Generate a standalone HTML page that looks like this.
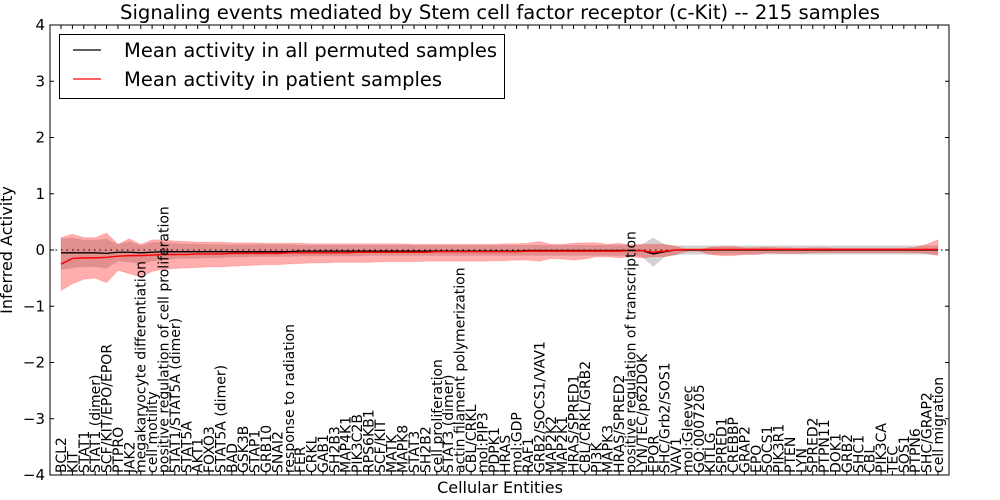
<!DOCTYPE html>
<html><head><meta charset="utf-8"><style>
html,body{margin:0;padding:0;background:#fff;}
svg{display:block;font-family:"DejaVu Sans","Liberation Sans",sans-serif;}
</style></head><body>
<svg id="chart" width="1000" height="500" viewBox="0 0 1000 500" xmlns="http://www.w3.org/2000/svg">
<text x="500" y="19" font-size="19.5" text-anchor="middle" textLength="760" lengthAdjust="spacingAndGlyphs">Signaling events mediated by Stem cell factor receptor (c-Kit) -- 215 samples</text>
<g id="bands"></g>
<g id="lines"></g>
<g id="yaxis"></g>
<g id="xaxis"></g>
<rect x="50" y="25" width="899" height="450" fill="none" stroke="#000" stroke-width="1"/>
<text transform="rotate(-90 12 250)" x="12" y="250" font-size="16" text-anchor="middle">Inferred Activity</text>
<text x="500" y="493" font-size="16" text-anchor="middle">Cellular Entities</text>
<g>
<rect x="59.5" y="34.5" width="445" height="64" fill="#fff" stroke="#000"/>
<line x1="73" y1="50" x2="101" y2="50" stroke="#000" stroke-width="1.2"/>
<text x="124" y="57" font-size="19.5">Mean activity in all permuted samples</text>
<line x1="73" y1="79" x2="101" y2="79" stroke="#f00" stroke-width="1.2"/>
<text x="124" y="86" font-size="19.5">Mean activity in patient samples</text>
</g>
</svg>
<script>
const categories=["BCL2","KIT","STAT1","STAT1 (dimer)","SCF/KIT/EPO/EPOR","PTPRO","JAK2","megakaryocyte differentiation","cell motility","positive regulation of cell proliferation","STAT1/STAT5A (dimer)","STAT5A","AKT1","FOXO3","STAT5A (dimer)","BAD","GSK3B","STAP1","GRB10","SNAI2","response to radiation","FER","CRKL","GAB1","SH2B3","MAP4K1","PIK3C2B","RPS6KB1","SCF/KIT","MATK","MAPK8","STAT3","SH2B2","cell proliferation","STAT3 (dimer)","actin filament polymerization","CBL/CRKL","mol:PIP3","PDPK1","HRAS","mol:GDP","RAF1","GRB2/SOCS1/VAV1","MAP2K2","MAP2K1","HRAS/SPRED1","CBL/CRKL/GRB2","PI3K","MAPK3","HRAS/SPRED2","positive regulation of transcription","LYN/TEC/p62DOK","EPOR","SHC/Grb2/SOS1","VAV1","mol:Gleevec","GO:0007205","KITLG","SPRED1","CREBBP","GRAP2","EPO","SOCS1","PIK3R1","PTEN","LYN","SPRED2","PTPN11","DOK1","GRB2","SHC1","CBL","PIK3CA","TEC","SOS1","PTPN6","SHC/GRAP2","cell migration"];
const permMean=[-0.05,-0.05,-0.05,-0.05,-0.06,-0.04,-0.04,-0.05,-0.04,-0.03,-0.03,-0.03,-0.03,-0.03,-0.03,-0.03,-0.03,-0.03,-0.03,-0.03,-0.03,-0.02,-0.02,-0.02,-0.02,-0.02,-0.02,-0.02,-0.02,-0.02,-0.02,-0.02,-0.02,-0.02,-0.02,-0.02,-0.02,-0.02,-0.02,-0.02,-0.02,-0.01,-0.01,-0.01,-0.01,-0.01,-0.01,-0.01,-0.01,-0.01,-0.01,-0.01,-0.07,-0.03,0,0,0,0,0,0,0,0,0,0,0,0,0,0,0,0,0,0,0,0,0,0,0,0];
const permLow=[-0.35,-0.32,-0.3,-0.3,-0.33,-0.2,-0.22,-0.25,-0.2,-0.18,-0.16,-0.15,-0.15,-0.14,-0.14,-0.13,-0.13,-0.12,-0.12,-0.12,-0.12,-0.11,-0.11,-0.11,-0.11,-0.11,-0.11,-0.1,-0.1,-0.1,-0.1,-0.1,-0.1,-0.1,-0.1,-0.1,-0.1,-0.1,-0.1,-0.1,-0.1,-0.1,-0.1,-0.1,-0.1,-0.1,-0.1,-0.1,-0.1,-0.1,-0.1,-0.12,-0.3,-0.12,-0.09,-0.08,-0.08,-0.08,-0.08,-0.08,-0.08,-0.08,-0.08,-0.08,-0.08,-0.08,-0.08,-0.08,-0.08,-0.08,-0.08,-0.08,-0.08,-0.08,-0.08,-0.08,-0.08,-0.08];
const permHigh=[0.2,0.22,0.18,0.18,0.2,0.1,0.15,0.08,0.14,0.14,0.12,0.11,0.11,0.1,0.1,0.1,0.1,0.1,0.1,0.1,0.1,0.09,0.09,0.09,0.09,0.09,0.09,0.09,0.09,0.09,0.09,0.09,0.09,0.09,0.09,0.09,0.09,0.09,0.09,0.09,0.09,0.09,0.09,0.09,0.09,0.09,0.09,0.09,0.09,0.09,0.09,0.1,0.22,0.1,0.08,0.08,0.08,0.08,0.08,0.08,0.08,0.08,0.08,0.08,0.08,0.08,0.08,0.08,0.08,0.08,0.08,0.08,0.08,0.08,0.08,0.08,0.08,0.08];
const patMean=[-0.25,-0.15,-0.14,-0.14,-0.13,-0.11,-0.1,-0.1,-0.09,-0.08,-0.08,-0.08,-0.07,-0.07,-0.07,-0.06,-0.06,-0.06,-0.06,-0.06,-0.05,-0.05,-0.05,-0.05,-0.05,-0.05,-0.04,-0.04,-0.04,-0.04,-0.04,-0.04,-0.04,-0.03,-0.03,-0.03,-0.03,-0.03,-0.03,-0.03,-0.03,-0.02,-0.02,-0.02,-0.02,-0.02,-0.02,-0.02,-0.02,-0.02,-0.01,-0.01,-0.04,-0.02,0,0.01,0.01,0.01,0.01,0.01,0.01,0.01,0.01,0.01,0.01,0.01,0.01,0.01,0.01,0.01,0.01,0.01,0.01,0.01,0.01,0.01,0.01,0.01];
const patLow=[-0.72,-0.6,-0.52,-0.5,-0.58,-0.36,-0.42,-0.48,-0.38,-0.34,-0.33,-0.32,-0.31,-0.3,-0.3,-0.29,-0.28,-0.27,-0.26,-0.26,-0.25,-0.24,-0.23,-0.23,-0.22,-0.22,-0.22,-0.22,-0.21,-0.21,-0.21,-0.21,-0.2,-0.2,-0.2,-0.2,-0.2,-0.2,-0.19,-0.19,-0.18,-0.18,-0.2,-0.15,-0.16,-0.18,-0.16,-0.12,-0.12,-0.14,-0.12,-0.14,-0.12,-0.12,-0.08,-0.02,-0.02,-0.08,-0.1,-0.1,-0.08,-0.08,-0.05,-0.06,-0.06,-0.06,-0.05,-0.05,-0.05,-0.05,-0.05,-0.05,-0.05,-0.05,-0.05,-0.05,-0.06,-0.1];
const patHigh=[0.22,0.28,0.22,0.22,0.3,0.1,0.2,0.1,0.18,0.18,0.16,0.15,0.14,0.14,0.14,0.13,0.13,0.13,0.12,0.12,0.12,0.12,0.11,0.11,0.11,0.11,0.11,0.11,0.11,0.11,0.11,0.1,0.1,0.1,0.1,0.1,0.1,0.1,0.1,0.11,0.11,0.12,0.15,0.1,0.1,0.12,0.13,0.13,0.1,0.12,0.09,0.1,0.1,0.1,0.06,0.01,0.01,0.05,0.06,0.06,0.04,0.04,0.05,0.04,0.04,0.03,0.04,0.04,0.03,0.03,0.03,0.03,0.03,0.03,0.03,0.05,0.1,0.18];
const yTicks=[-4,-3,-2,-1,0,1,2,3,4];

const NS="http://www.w3.org/2000/svg";
const X0=61, X1=938, YT=25, YB=475, YMIN=-4, YMAX=4;
function xS(i){return X0+i*(X1-X0)/(categories.length-1);}
function yS(v){return YB-(v-YMIN)/(YMAX-YMIN)*(YB-YT);}
function mk(tag,attrs,parent){const e=document.createElementNS(NS,tag);for(const k in attrs)e.setAttribute(k,attrs[k]);parent.appendChild(e);return e;}
function bandPath(lo,hi){let d="";hi.forEach((v,i)=>{d+=(i?"L":"M")+xS(i).toFixed(2)+","+yS(v).toFixed(2);});for(let i=lo.length-1;i>=0;i--)d+="L"+xS(i).toFixed(2)+","+yS(lo[i]).toFixed(2);return d+"Z";}
function linePath(arr){return arr.map((v,i)=>(i?"L":"M")+xS(i).toFixed(2)+","+yS(v).toFixed(2)).join("");}
const bands=document.getElementById("bands"),lines=document.getElementById("lines"),ya=document.getElementById("yaxis"),xa=document.getElementById("xaxis");
let p=mk("path",{d:bandPath(permLow,permHigh),fill:"#a8a8a8","fill-opacity":"0.5",stroke:"none"},bands);


p=mk("path",{d:bandPath(patLow,patHigh),fill:"#f00","fill-opacity":"0.32",stroke:"#f00","stroke-opacity":"0.15"},bands);


p=mk("line",{x1:50,x2:949,y1:yS(0),y2:yS(0),stroke:"#000","stroke-dasharray":"1.5,4"},lines);


p=mk("path",{d:linePath(permMean),fill:"none",stroke:"#000","stroke-width":1.3},lines);


p=mk("path",{d:linePath(patMean),fill:"none",stroke:"#f00","stroke-width":1.4},lines);


yTicks.forEach(t=>{
  const y=yS(t);
  let l=mk("line",{x1:50,x2:54,y1:y,y2:y,stroke:"#000"},ya);
  
  
  l=mk("line",{x1:945,x2:949,y1:y,y2:y,stroke:"#000"},ya);
  
  
  const tx=mk("text",{x:45,y:y+5,"font-size":15,"text-anchor":"end"},ya);
  tx.textContent=(t<0?"\u2212"+(-t):String(t));
  
  
});
categories.forEach((c,i)=>{
  const x=xS(i);
  let l=mk("line",{x1:x,x2:x,y1:YB,y2:YB-4,stroke:"#000"},xa);
  
  
  l=mk("line",{x1:x,x2:x,y1:YT,y2:YT+4,stroke:"#000"},xa);
  
  
  const tx=mk("text",{x:x+5,y:473,"font-size":14,transform:"rotate(-90 "+(x+5)+" 473)"},xa);
  tx.textContent=c;
  
  
});
</script>
</body></html>
